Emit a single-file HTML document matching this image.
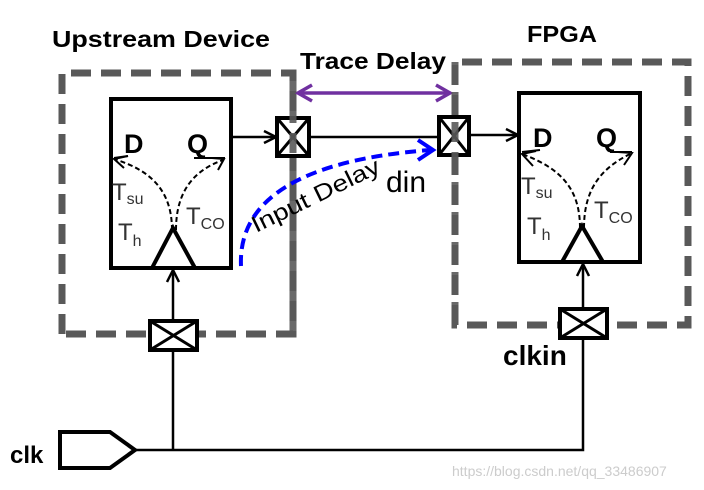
<!DOCTYPE html>
<html><head><style>
body{margin:0;background:#fff;}
svg{display:block;font-family:"Liberation Sans",sans-serif;}
</style></head><body>
<svg width="704" height="490" viewBox="0 0 704 490" xmlns="http://www.w3.org/2000/svg">
<rect width="704" height="490" fill="#fff"/>
<text x="52" y="47" font-size="23" font-weight="bold" fill="#000" textLength="218" lengthAdjust="spacingAndGlyphs">Upstream Device</text>
<text x="527" y="42" font-size="23" font-weight="bold" fill="#000" textLength="70" lengthAdjust="spacingAndGlyphs">FPGA</text>
<text x="300" y="69" font-size="23" font-weight="bold" fill="#000" textLength="146" lengthAdjust="spacingAndGlyphs">Trace Delay</text>
<path d="M62 334 L62 73 L293 73 L293 334 Z" fill="none" stroke="#595959" stroke-width="7" stroke-dasharray="20 10"/>
<path d="M455 325 L455 62 L688 62 L688 325 Z" fill="none" stroke="#595959" stroke-width="7" stroke-dasharray="20 10"/>
<line x1="298" y1="93" x2="450" y2="93" stroke="#7030a0" stroke-width="3.5"/>
<polyline points="312,85 298,93 312,101" fill="none" stroke="#7030a0" stroke-width="3.5"/>
<polyline points="436,85 450,93 436,101" fill="none" stroke="#7030a0" stroke-width="3.5"/>
<rect x="111" y="99" width="120" height="169" fill="none" stroke="#000" stroke-width="4"/>
<polyline points="152,268 173,228 195,268" fill="none" stroke="#000" stroke-width="4"/>
<text x="124" y="153" font-size="27" font-weight="bold">D</text>
<text x="187" y="153" font-size="27" font-weight="bold">Q</text>
<line x1="114" y1="158" x2="128" y2="156" stroke="#000" stroke-width="2"/>
<line x1="194" y1="158" x2="225" y2="158" stroke="#000" stroke-width="2"/>
<path d="M172 230 C172 190 150 170 114 159" fill="none" stroke="#000" stroke-width="2" stroke-dasharray="5 3"/>
<path d="M176 230 C176 190 195 170 223 160" fill="none" stroke="#000" stroke-width="2" stroke-dasharray="5 3"/>
<polyline points="124,168 114,159 128,156" fill="none" stroke="#000" stroke-width="2"/>
<polyline points="212,158 224,159 218,170" fill="none" stroke="#000" stroke-width="2"/>
<text x="112" y="200" font-size="24" fill="#333">T<tspan font-size="16" dy="4">su</tspan></text>
<text x="118" y="240" font-size="24" fill="#333">T<tspan font-size="16" dy="6">h</tspan></text>
<text x="186" y="224" font-size="24" fill="#333">T<tspan font-size="16" dy="5">CO</tspan></text>
<rect x="519" y="93" width="121" height="169" fill="none" stroke="#000" stroke-width="4"/>
<polyline points="562,262 582,226 603,262" fill="none" stroke="#000" stroke-width="4"/>
<text x="533" y="147" font-size="27" font-weight="bold">D</text>
<text x="596" y="147" font-size="27" font-weight="bold">Q</text>
<line x1="522" y1="152" x2="540" y2="150" stroke="#000" stroke-width="2"/>
<line x1="610" y1="152" x2="632" y2="152" stroke="#000" stroke-width="2"/>
<path d="M580 228 C580 188 560 168 522 154" fill="none" stroke="#000" stroke-width="2" stroke-dasharray="5 3"/>
<path d="M584 228 C584 188 602 168 630 154" fill="none" stroke="#000" stroke-width="2" stroke-dasharray="5 3"/>
<polyline points="533,166 522,154 536,151" fill="none" stroke="#000" stroke-width="2"/>
<polyline points="618,152 632,153 624,165" fill="none" stroke="#000" stroke-width="2"/>
<text x="521" y="194" font-size="24" fill="#333">T<tspan font-size="16" dy="4">su</tspan></text>
<text x="527" y="234" font-size="24" fill="#333">T<tspan font-size="16" dy="6">h</tspan></text>
<text x="594" y="218" font-size="24" fill="#333">T<tspan font-size="16" dy="5">CO</tspan></text>
<line x1="231" y1="137" x2="274" y2="137" stroke="#000" stroke-width="2.5"/>
<polyline points="264,131 276,137 264,143" fill="none" stroke="#000" stroke-width="2.5"/>
<line x1="310" y1="137" x2="438" y2="137" stroke="#000" stroke-width="2.5"/>
<line x1="470" y1="135" x2="516" y2="135" stroke="#000" stroke-width="2.5"/>
<polyline points="506,129 518,135 506,141" fill="none" stroke="#000" stroke-width="2.5"/>
<g stroke="#000" stroke-width="4" fill="#fff">
<rect x="277" y="118" width="32" height="38"/>
<rect x="439" y="117" width="30" height="38"/>
<rect x="150" y="321" width="47" height="29"/>
<rect x="560" y="309" width="47" height="29"/>
</g>
<g stroke="#000" stroke-width="3">
<line x1="277" y1="118" x2="309" y2="156"/><line x1="309" y1="118" x2="277" y2="156"/>
<line x1="439" y1="117" x2="469" y2="155"/><line x1="469" y1="117" x2="439" y2="155"/>
<line x1="150" y1="321" x2="197" y2="350"/><line x1="197" y1="321" x2="150" y2="350"/>
<line x1="560" y1="309" x2="607" y2="338"/><line x1="607" y1="309" x2="560" y2="338"/>
</g>
<line x1="293" y1="73" x2="293" y2="334" stroke="#595959" stroke-width="7" stroke-dasharray="20 10" opacity="0.9"/>
<line x1="455" y1="62" x2="455" y2="325" stroke="#595959" stroke-width="7" stroke-dasharray="20 10" opacity="0.9"/>
<line x1="173" y1="321" x2="173" y2="270" stroke="#000" stroke-width="2.5"/>
<polyline points="167,282 173,270 179,282" fill="none" stroke="#000" stroke-width="2.5"/>
<line x1="173" y1="350" x2="173" y2="450" stroke="#000" stroke-width="2.5"/>
<line x1="583" y1="309" x2="583" y2="264" stroke="#000" stroke-width="2.5"/>
<polyline points="577,276 583,264 589,276" fill="none" stroke="#000" stroke-width="2.5"/>
<polyline points="583,338 583,450 135,450" fill="none" stroke="#000" stroke-width="2.5"/>
<polygon points="60,432 110,432 135,450 110,468 60,468" fill="#fff" stroke="#000" stroke-width="4"/>
<text x="10" y="463" font-size="24" font-weight="bold">clk</text>
<text x="503" y="365" font-size="28" font-weight="bold">clkin</text>
<path d="M241 266 C238 200 300 160 430 150" fill="none" stroke="#0000ff" stroke-width="4" stroke-dasharray="11 6"/>
<polyline points="418,140 433,150 418,160" fill="none" stroke="#0000ff" stroke-width="4"/>
<text x="0" y="0" font-size="23" transform="translate(256,233) rotate(-26)" textLength="140" lengthAdjust="spacingAndGlyphs">Input Delay</text>
<text x="386" y="192" font-size="30">din</text>
<text x="452" y="476" font-size="14" fill="#ccc">https://blog.csdn.net/qq_33486907</text>
</svg>
</body></html>
